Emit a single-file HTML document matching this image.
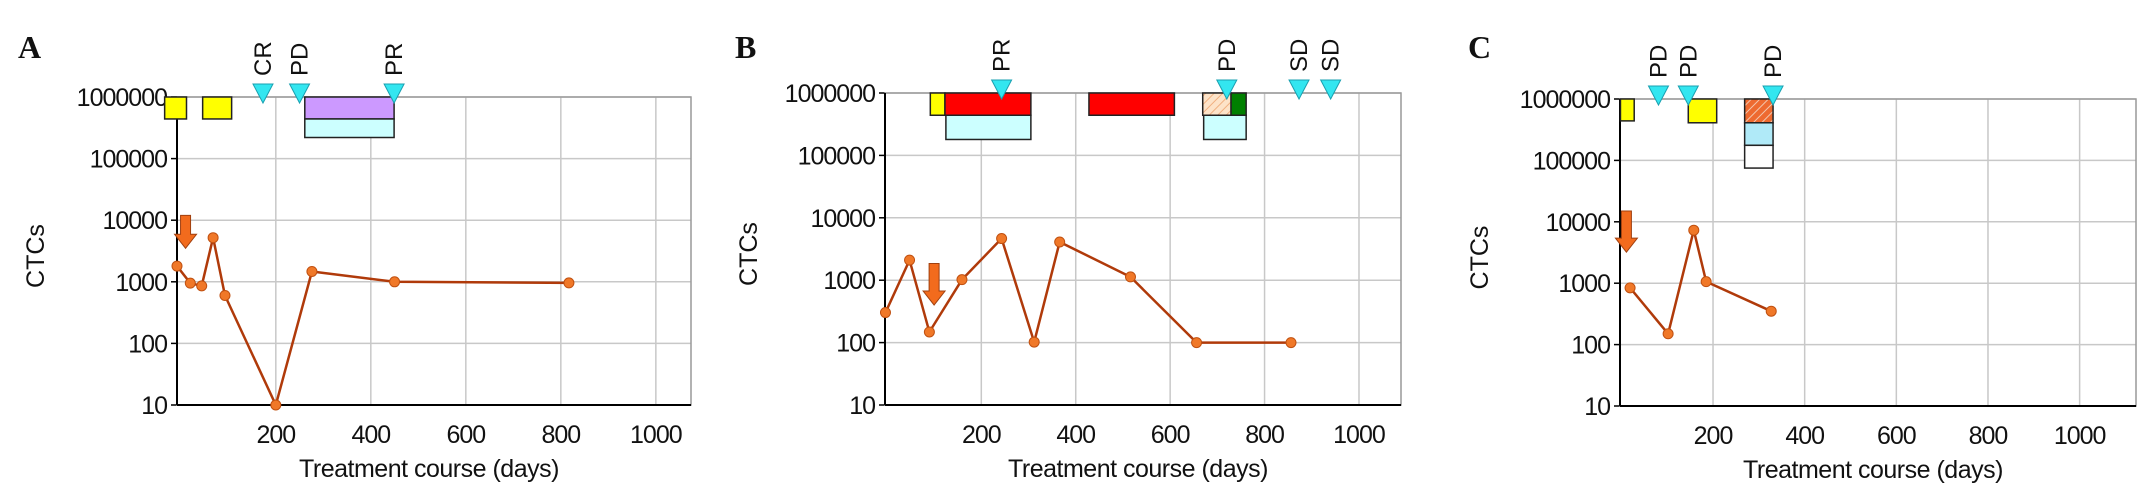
<!DOCTYPE html>
<html><head><meta charset="utf-8"><style>
body{margin:0;background:#fff}
svg{display:block}
text{font-family:"Liberation Sans",sans-serif;fill:#111}
</style></head><body>
<svg id="fig" width="2141" height="490" viewBox="0 0 2141 490" xmlns="http://www.w3.org/2000/svg">
<defs>
<pattern id="hatchPeach" patternUnits="userSpaceOnUse" width="6" height="6" patternTransform="rotate(45)"><rect width="6" height="6" fill="#fde3c8"/><line x1="0" y1="0" x2="0" y2="6" stroke="#f0b080" stroke-width="2"/></pattern>
<pattern id="hatchOrange" patternUnits="userSpaceOnUse" width="6" height="6" patternTransform="rotate(45)"><rect width="6" height="6" fill="#ee6a30"/><line x1="0" y1="0" x2="0" y2="6" stroke="#f2c8b0" stroke-width="2"/></pattern>
</defs>
</svg>
<script>
// Panel A data
const daysA = [-8, 20, 44, 68, 93, 200, 276, 450, 817];
const ctcA = [1800, 950, 860, 5200, 600, 10, 1470, 1000, 960];
const respDaysA = [173, 250, 449];
const respLabelsA = ["CR", "PD", "PR"];
const barsA = [[-34, 12, 1e6, 4.4e5, "#ffff00"], [46, 107, 1e6, 4.4e5, "#ffff00"], [261, 449, 1e6, 4.4e5, "#cc99ff"], [261, 449, 4.4e5, 2.2e5, "#ccffff"]];
const arrowA = [10, 12000, 3500];
// Panel B data
const daysB = [-3, 48, 90, 159, 243, 312, 366, 516, 656, 856];
const ctcB = [303, 2100, 148, 1020, 4650, 102, 4100, 1130, 100, 100];
const respDaysB = [243, 720, 873, 940];
const respLabelsB = ["PR", "PD", "SD", "SD"];
const barsB = [[92, 123, 1e6, 4.4e5, "#ffff00"], [123, 305, 1e6, 4.4e5, "#ff0000"], [125, 305, 4.4e5, 1.8e5, "#ccffff"], [428, 609, 1e6, 4.4e5, "#ff0000"], [669, 729, 1e6, 4.4e5, "url(#hatchPeach)"], [729, 761, 1e6, 4.4e5, "#008000"], [671, 761, 4.4e5, 1.8e5, "#ccffff"]];
const arrowB = [100, 1850, 400];
// Panel C data
const daysC = [19, 102, 158, 185, 327];
const ctcC = [840, 150, 7300, 1060, 350];
const respDaysC = [81, 146, 331];
const respLabelsC = ["PD", "PD", "PD"];
const barsC = [[-2, 28, 1e6, 4.4e5, "#ffff00"], [146, 208, 1e6, 4.1e5, "#ffff00"], [269, 331, 1e6, 4.1e5, "url(#hatchOrange)"], [269, 331, 4.1e5, 1.76e5, "#b0eaf8"], [269, 331, 1.76e5, 7.5e4, "#ffffff"]];
const arrowC = [11, 15000, 3200];
const yTicks = [10, 100, 1000, 10000, 100000, 1000000];
const xTicks = [200, 400, 600, 800, 1000];

const NS = "http://www.w3.org/2000/svg";
const svg = document.getElementById("fig");
function mk(tag, attrs, parent, txt) {
  const e = document.createElementNS(NS, tag);
  for (const k in attrs) e.setAttribute(k, attrs[k]);
  if (txt !== undefined) e.textContent = txt;
  (parent || svg).appendChild(e);
  return e;
}

function panel(cfg, days, ctc, respDays, respLabels, bars, arrow) {
  const g = mk("g", {});
  
  
  const X = d => cfg.L + (d - cfg.xmin) / (cfg.xmax - cfg.xmin) * (cfg.R - cfg.L);
  const Y = v => cfg.B - (Math.log10(v) - 1) / 5 * (cfg.B - cfg.T);
  // grid
  yTicks.forEach(t => {
    const l = mk("line", {x1: cfg.L, x2: cfg.R, y1: Y(t), y2: Y(t), stroke: "#c8c8c8", "stroke-width": 1.5}, g);
    
    
    const tk = mk("line", {x1: cfg.L - 6, x2: cfg.L, y1: Y(t), y2: Y(t), stroke: "#000", "stroke-width": 1.5}, g);
    
    
    const lb = mk("text", {x: cfg.L - 10, y: Y(t) + 9, "text-anchor": "end", "font-size": 25, "letter-spacing": "-1"}, g, String(t));
    
    
  });
  xTicks.forEach(t => {
    const l = mk("line", {x1: X(t), x2: X(t), y1: cfg.T, y2: cfg.B, stroke: "#c8c8c8", "stroke-width": 1.5}, g);
    
    
    const lb = mk("text", {x: X(t), y: cfg.B + 38, "text-anchor": "middle", "font-size": 25, "letter-spacing": "-1"}, g, String(t));
    
    
  });
  const fr = mk("rect", {x: cfg.L, y: cfg.T, width: cfg.R - cfg.L, height: cfg.B - cfg.T, fill: "none", stroke: "#999", "stroke-width": 1.5}, g);
  
  
  const ya = mk("line", {x1: cfg.L, x2: cfg.L, y1: cfg.T, y2: cfg.B, stroke: "#000", "stroke-width": 2}, g);
  
  
  const xa = mk("line", {x1: cfg.L, x2: cfg.R, y1: cfg.B, y2: cfg.B, stroke: "#000", "stroke-width": 2}, g);
  
  
  // bars
  bars.forEach(b => {
    const r = mk("rect", {x: X(b[0]), y: Y(b[2]), width: X(b[1]) - X(b[0]), height: Y(b[3]) - Y(b[2]), fill: b[4], stroke: "#222", "stroke-width": 1.5}, g);
    
    
  });
  // arrow
  const ax = X(arrow[0]), ay1 = Y(arrow[1]), ay2 = Y(arrow[2]);
  const ar = mk("path", {d: `M${ax-5},${ay1} L${ax+5},${ay1} L${ax+5},${ay2-14} L${ax+11},${ay2-14} L${ax},${ay2} L${ax-11},${ay2-14} L${ax-5},${ay2-14} Z`, fill: "#f26b1d", stroke: "#a04010", "stroke-width": 1}, g);
  
  
  // line
  const pts = days.map((d, i) => X(d) + "," + Y(ctc[i])).join(" ");
  const pl = mk("polyline", {points: pts, fill: "none", stroke: "#b03a0a", "stroke-width": 2.5}, g);
  
  
  days.forEach((d, i) => {
    const c = mk("circle", {cx: X(d), cy: Y(ctc[i]), r: 5, fill: "#f07828", stroke: "#c05010", "stroke-width": 1}, g);
    
    
  });
  // response triangles
  respDays.forEach((d, i) => {
    const x = X(d), top = cfg.T - 13;
    const t = mk("path", {d: `M${x-10},${top} L${x+10},${top} L${x},${top+19} Z`, fill: "#33e6f0", stroke: "#1aa0b0", "stroke-width": 1}, g);
    
    
    const lb = mk("text", {x: x + 8, y: top - 8, transform: `rotate(-90 ${x + 8} ${top - 8})`, "font-size": 24}, g, respLabels[i]);
    
    
  });
  const xt = mk("text", {x: (cfg.L + cfg.R) / 2 - 5, y: cfg.B + 72, "text-anchor": "middle", "font-size": 25, "letter-spacing": "-0.5"}, g, "Treatment course (days)");
  
  
  const yt = mk("text", {x: cfg.yt, y: (cfg.T + cfg.B) / 2 + 5, transform: `rotate(-90 ${cfg.yt} ${(cfg.T + cfg.B) / 2 + 5})`, "text-anchor": "middle", "font-size": 25}, g, "CTCs");
  
  
  const pt = mk("text", {x: cfg.lx, y: 58, "font-size": 32, "font-weight": "bold", style: "font-family:'Liberation Serif',serif"}, g, cfg.id);
  
  
}

panel({id: "A", L: 177, R: 691, T: 97, B: 405, xmin: -8, xmax: 1074, yt: 44, lx: 18}, daysA, ctcA, respDaysA, respLabelsA, barsA, arrowA);
panel({id: "B", L: 885, R: 1401, T: 93, B: 405, xmin: -4, xmax: 1089, yt: 757, lx: 735}, daysB, ctcB, respDaysB, respLabelsB, barsB, arrowB);
panel({id: "C", L: 1620, R: 2136, T: 99, B: 406, xmin: -3, xmax: 1123, yt: 1488, lx: 1468}, daysC, ctcC, respDaysC, respLabelsC, barsC, arrowC);
</script>
</body></html>
